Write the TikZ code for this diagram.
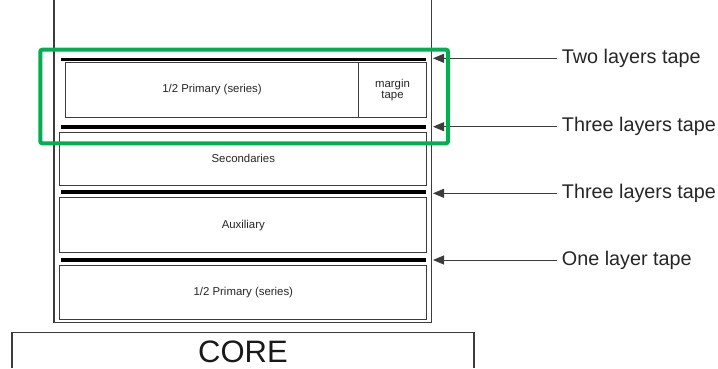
\documentclass[tikz,border=0pt]{standalone}
\usepackage{fontspec}
\setmainfont{Liberation Sans}
\usetikzlibrary{arrows.meta}
\definecolor{hlgreen}{RGB}{0,176,80}
\definecolor{linegray}{RGB}{60,60,60}
\begin{document}
\begin{tikzpicture}[x=1pt,y=-1pt]
\tikzstyle{layer}=[draw=linegray, line width=1pt, inner sep=0pt, font=\fontsize{11.4}{13}\selectfont, text=black!85]
\tikzstyle{tape}=[fill=black, inner sep=0pt, minimum width=365pt]
\tikzstyle{tapelabel}=[anchor=west, inner sep=5pt, font=\fontsize{19.8}{22}\selectfont, text=black!85]
\tikzstyle{pointer}=[draw=linegray, line width=0.9pt, -{Triangle[length=11pt,width=9pt]}]
\useasboundingbox (0,0) rectangle (718,368);
% winding window
\draw[linegray, line width=1.2pt] (54,0) -- (54,322.7) -- (431.7,322.7) -- (431.7,0);
% layers
\node[layer, minimum width=292.6pt, minimum height=54.6pt] (prim1) at (212,90) {1/2 Primary (series)};
\node[layer, minimum width=68.4pt, minimum height=54.6pt, align=center] (margin) at (392.5,90) {margin\\[-2pt]tape};
\node[layer, minimum width=366.7pt, minimum height=53pt] (sec) at (243.3,158.5) {Secondaries};
\node[layer, minimum width=366.7pt, minimum height=55pt] (aux) at (243.3,225.2) {Auxiliary};
\node[layer, minimum width=366.7pt, minimum height=54.3pt] (prim2) at (243.3,292.8) {1/2 Primary (series)};
% tapes
\node[tape, minimum height=3pt] (tapeA) at (243.2,59) {};
\node[tape, minimum height=4pt] (tapeB) at (243.2,127.3) {};
\node[tape, minimum height=4pt] (tapeC) at (243.2,192.3) {};
\node[tape, minimum height=3.5pt] (tapeD) at (243.2,260) {};
% labels
\node[tapelabel] (lblA) at (556.7,58.3) {Two layers tape};
\node[tapelabel] (lblB) at (556.7,126.7) {Three layers tape};
\node[tapelabel] (lblC) at (556.7,193.3) {Three layers tape};
\node[tapelabel] (lblD) at (556.7,260) {One layer tape};
\coordinate (tipA) at (433,58.3);
\coordinate (tipB) at (433,126.7);
\coordinate (tipC) at (433,193.3);
\coordinate (tipD) at (433,260);
\draw[pointer] (lblA.west) -- (tipA);
\draw[pointer] (lblB.west) -- (tipB);
\draw[pointer] (lblC.west) -- (tipC);
\draw[pointer] (lblD.west) -- (tipD);
% core
\draw[linegray, line width=1.2pt] (12,368) -- (12,332.3) -- (474,332.3) -- (474,368);
\node[font=\fontsize{31}{34}\selectfont, text=black!90, inner sep=1pt] (core) at (243,352) {CORE};
% highlight
\draw[hlgreen, line width=4pt, rounded corners=2pt] (40.3,49.7) rectangle (448,143.3);
\end{tikzpicture}
\end{document}
